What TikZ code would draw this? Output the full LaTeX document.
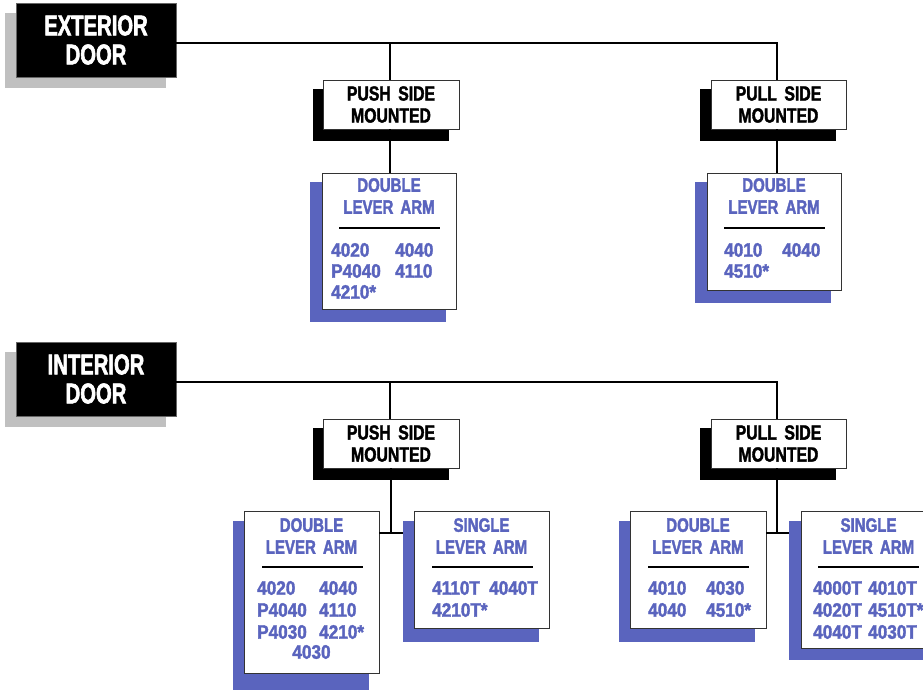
\documentclass[tikz,border=0pt]{standalone}
\usepackage{fontspec}
\newfontfamily\hdrf[FakeStretch=0.71,FakeBold=2]{Liberation Sans}
\newfontfamily\ttlf[FakeStretch=0.77,FakeBold=1.8,WordSpace=1.7]{Liberation Sans}
\newfontfamily\numf[FakeStretch=0.88,FakeBold=1.8,WordSpace=1.3]{Liberation Sans}
\definecolor{armblue}{RGB}{90,100,190}
\definecolor{hdrshadow}{RGB}{192,192,192}
\tikzset{
  hdrbox/.style={fill=black, draw=black!60, line width=0.6pt, minimum width=160pt, minimum height=74pt, inner sep=0pt, text=white, align=center, font={\hdrf\bfseries\fontsize{28.5pt}{29pt}\selectfont}},
  mntbox/.style={fill=white, draw=black!80, line width=0.8pt, minimum width=136pt, minimum height=49pt, inner sep=0pt, align=center, font={\ttlf\bfseries\fontsize{20.5pt}{22pt}\selectfont}},
  armbox/.style={fill=white, draw=black!80, line width=0.8pt, inner sep=0pt},
  armttl/.style={text=armblue, align=center, inner sep=0pt, font={\ttlf\bfseries\fontsize{19.5pt}{22pt}\selectfont}},
  armnum/.style={text=armblue, anchor=west, inner sep=0pt, font={\numf\bfseries\fontsize{19.5pt}{21pt}\selectfont}},
  armnumc/.style={text=armblue, inner sep=0pt, font={\numf\bfseries\fontsize{19.5pt}{21pt}\selectfont}},
  armrule/.style={line width=1.8pt},
  conn/.style={line width=1.4pt},
  bshadow/.style={fill=armblue},
  kshadow/.style={fill=black},
  gshadow/.style={fill=hdrshadow}
}
\begin{document}
\begin{tikzpicture}[x=1pt,y=-1pt]
\useasboundingbox (0,0) rectangle (923,689);
\clip (0,0) rectangle (923,689);

% ---------- header shadows and headers ----------
\fill[gshadow] (5,13) rectangle (166,88);
\fill[gshadow] (5,352) rectangle (166,427);
\node[hdrbox] (exthdr) at (96,40) {EXTERIOR\\DOOR};
\node[hdrbox] (inthdr) at (96,379) {INTERIOR\\DOOR};

% ---------- junction coordinates ----------
\coordinate (ej) at (390,43);
\coordinate (ij) at (390,382);
\coordinate (pj) at (391,533);
\coordinate (qj) at (777,533);

% ---------- shadows of mounted boxes ----------
\fill[kshadow] (313,89) rectangle (449,141);
\fill[kshadow] (700,89) rectangle (836,141);
\fill[kshadow] (313,428) rectangle (449,480);
\fill[kshadow] (700,428) rectangle (836,480);

% ---------- mounted boxes ----------
\node[mntbox] (extpush) at (391,104.5) {PUSH SIDE\\MOUNTED};
\node[mntbox, minimum width=135pt] (extpull) at (778.5,104.5) {PULL SIDE\\MOUNTED};
\node[mntbox] (intpush) at (391,443.5) {PUSH SIDE\\MOUNTED};
\node[mntbox, minimum width=135pt] (intpull) at (778.5,443.5) {PULL SIDE\\MOUNTED};

% ---------- connectors ----------
\draw[conn] ([yshift=-3pt]exthdr.east) -- (ej) -| ([xshift=-1.5pt]extpull.north);
\draw[conn] (ej) -- (extpush.north -| ej);
\draw[conn] ([yshift=-3pt]inthdr.east) -- (ij) -| ([xshift=-1.5pt]intpull.north);
\draw[conn] (ij) -- (intpush.north -| ij);
\draw[conn] (extpush.south -| ej) -- (390,173);
\draw[conn] ([xshift=-1.5pt]extpull.south) -- (777,173);
\draw[conn] (intpush.south) -- (pj);
\draw[conn] ([xshift=-1.5pt]intpull.south) -- (qj);

% ---------- arm box shadows ----------
\fill[bshadow] (310,182) rectangle (446,322);
\fill[bshadow] (695,182) rectangle (831,303);
\fill[bshadow] (233,521) rectangle (369,695);
\fill[bshadow] (403,521) rectangle (539,642);
\fill[bshadow] (619,521) rectangle (755,642);
\fill[bshadow] (789,521) rectangle (925,660);

% ---------- arm boxes ----------
\node[armbox, minimum width=134pt, minimum height=136pt] (extpd) at (389,241) {};
\node[armbox, minimum width=134pt, minimum height=117pt] (extqd) at (774,231.5) {};
\node[armbox, minimum width=135pt, minimum height=162pt] (intpd) at (311.5,592) {};
\node[armbox, minimum width=135pt, minimum height=117pt] (intps) at (481.5,569.5) {};
\node[armbox, minimum width=136pt, minimum height=117pt] (intqd) at (698,569.5) {};
\node[armbox, minimum width=135pt, minimum height=137pt] (intqs) at (868.5,579.5) {};

% side connectors (interior)
\draw[conn] (intpd.east |- pj) -- (pj) -- ([xshift=-11pt]intps.west |- pj);
\draw[conn] (intqd.east |- qj) -- (qj) -- ([xshift=-12pt]intqs.west |- qj);

% ---------- exterior push double ----------
\node[armttl] (t1) at (389,196) {DOUBLE\\LEVER ARM};
\draw[armrule] (339,228) -- (440,228);
\node[armnum] (n11) at (331,250) {4020};
\node[armnum] (n12) at (395,250) {4040};
\node[armnum] (n13) at (331,271) {P4040};
\node[armnum] (n14) at (395,271) {4110};
\node[armnum] (n15) at (331,292) {4210*};

% ---------- exterior pull double ----------
\node[armttl] (t2) at (774,196) {DOUBLE\\LEVER ARM};
\draw[armrule] (724,228) -- (825,228);
\node[armnum] (n21) at (724,250) {4010};
\node[armnum] (n22) at (782,250) {4040};
\node[armnum] (n23) at (724,271) {4510*};

% ---------- interior push double ----------
\node[armttl] (t3) at (311.5,536) {DOUBLE\\LEVER ARM};
\draw[armrule] (262,567) -- (363,567);
\node[armnum] (n31) at (257,588) {4020};
\node[armnum] (n32) at (319,588) {4040};
\node[armnum] (n33) at (257,610) {P4040};
\node[armnum] (n34) at (319,610) {4110};
\node[armnum] (n35) at (257,632) {P4030};
\node[armnum] (n36) at (319,632) {4210*};
\node[armnumc] (n37) at (311.5,652) {4030};

% ---------- interior push single ----------
\node[armttl] (t4) at (481.5,536) {SINGLE\\LEVER ARM};
\draw[armrule] (432,567) -- (533,567);
\node[armnum] (n41) at (432,588) {4110T};
\node[armnum] (n42) at (489,588) {4040T};
\node[armnum] (n43) at (432,610) {4210T*};

% ---------- interior pull double ----------
\node[armttl] (t5) at (698,536) {DOUBLE\\LEVER ARM};
\draw[armrule] (648,567) -- (749,567);
\node[armnum] (n51) at (648,588) {4010};
\node[armnum] (n52) at (706,588) {4030};
\node[armnum] (n53) at (648,610) {4040};
\node[armnum] (n54) at (706,610) {4510*};

% ---------- interior pull single ----------
\node[armttl] (t6) at (868.5,536) {SINGLE\\LEVER ARM};
\draw[armrule] (818,567) -- (919,567);
\node[armnum] (n61) at (813,588) {4000T};
\node[armnum] (n62) at (868,588) {4010T};
\node[armnum] (n63) at (813,610) {4020T};
\node[armnum] (n64) at (868,610) {4510T*};
\node[armnum] (n65) at (813,632) {4040T};
\node[armnum] (n66) at (868,632) {4030T};
\end{tikzpicture}
\end{document}
